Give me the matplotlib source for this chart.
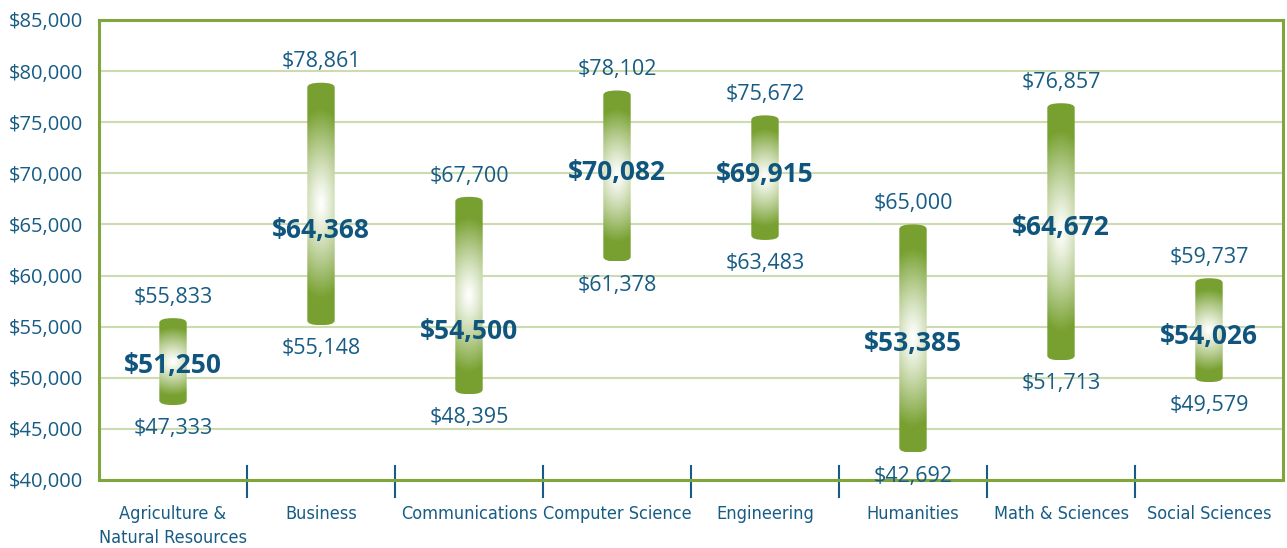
import numpy as np
import matplotlib
matplotlib.use("Agg")
from matplotlib import pyplot as plt
from matplotlib.patches import FancyBboxPatch
from matplotlib.ticker import FuncFormatter

# dados
categorias = ["Agriculture &\nNatural Resources", "Business", "Communications",
              "Computer Science", "Engineering", "Humanities",
              "Math & Sciences", "Social Sciences"]
alto = [55833, 78861, 67700, 78102, 75672, 65000, 76857, 59737]
baixo = [47333, 55148, 48395, 61378, 63483, 42692, 51713, 49579]
mediana = [51250, 64368, 54500, 70082, 69915, 53385, 64672, 54026]

azul = "#175c84"
azul_forte = "#0f557d"
verde = np.array([0.47, 0.63, 0.19])
verde_borda = "#7ea63a"
verde_grade = "#cddcb0"

plt.rcParams['font.family'] = ['Open Sans', 'DejaVu Sans']

fig = plt.figure(figsize=(12.87, 5.48), dpi=100)
ax = fig.add_axes([99/1287, 1 - 480/548, 1184/1287, 460/548])

x = np.arange(len(categorias))
larg = 0.185

# gradiente radial (branco no centro, verde nas pontas)
ny, nx = 300, 60
yy, xx = np.mgrid[-1:1:ny*1j, -1:1:nx*1j]
d = np.sqrt((xx * 0.4) ** 2 + (yy / 0.78) ** 2)
t = np.clip(d, 0, 1) ** 1.2
img = np.ones((ny, nx, 3)) * (1 - t[..., None]) + verde * t[..., None]

for i in range(len(categorias)):
    x0 = x[i] - larg / 2
    caixa = FancyBboxPatch((x0, baixo[i]), larg, alto[i] - baixo[i],
                           boxstyle="round,pad=0,rounding_size=0.09",
                           mutation_aspect=450 / 0.09,
                           facecolor="none", edgecolor="none", zorder=3)
    ax.add_patch(caixa)
    im = ax.imshow(img, extent=(x0, x0 + larg, baixo[i], alto[i]),
                   aspect="auto", origin="lower", zorder=3, interpolation="bilinear")
    im.set_clip_path(caixa)

    ax.annotate(f"${alto[i]:,}", (x[i], alto[i]), xytext=(0, 15),
                textcoords="offset points", ha="center", va="center",
                fontsize=15.5, color=azul, zorder=5)
    ax.annotate(f"${baixo[i]:,}", (x[i], baixo[i]), xytext=(0, -17),
                textcoords="offset points", ha="center", va="center",
                fontsize=15.5, color=azul, zorder=5)
    ax.text(x[i], mediana[i], f"${mediana[i]:,}", ha="center", va="center",
            fontsize=19, fontweight="bold", color=azul_forte, zorder=6)

ax.set_xlim(-0.5, len(categorias) - 0.5)
ax.set_ylim(40000, 85000)
ax.set_yticks(range(40000, 85001, 5000))
ax.yaxis.set_major_formatter(FuncFormatter(lambda v, p: f"${v:,.0f}"))
ax.tick_params(axis="y", length=0, pad=11.5, labelsize=14.5, labelcolor=azul)
ax.set_xticks([])
ax.grid(axis="y", color=verde_grade, linewidth=1.5, zorder=0)
ax.set_axisbelow(True)
for lado in ["left", "right", "top", "bottom"]:
    ax.spines[lado].set_color(verde_borda)
    ax.spines[lado].set_linewidth(2.2)

# separadores entre categorias
trans = ax.get_xaxis_transform()
for i in range(1, len(categorias)):
    ax.plot([i - 0.5, i - 0.5], [-0.037, 0.030], transform=trans,
            color=azul, linewidth=1.5, clip_on=False)

for i, nome in enumerate(categorias):
    ax.text(x[i], -0.055, nome, transform=trans, ha="center", va="top",
            fontsize=13, color=azul, linespacing=1.4,
            family=['DejaVu Sans'], fontstretch='condensed')

fig.savefig("out.png", dpi=100)
